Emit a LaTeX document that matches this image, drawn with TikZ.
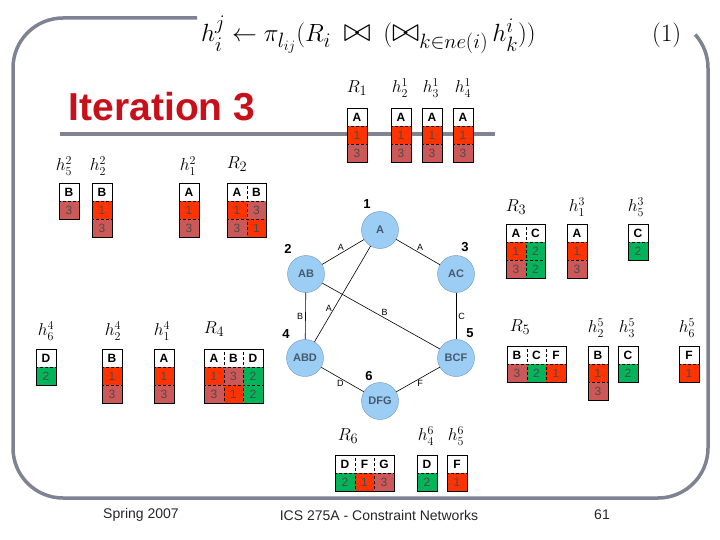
\documentclass[tikz,border=0pt]{standalone}
\usepackage[no-math]{fontspec}
\setmainfont{Liberation Sans}
\usepackage{amsmath}
\usepackage{graphicx}
\definecolor{framegray}{RGB}{126,131,148}
\definecolor{titlered}{RGB}{200,16,26}
\definecolor{rd}{RGB}{255,51,0}
\definecolor{dr}{RGB}{204,88,88}
\definecolor{gn}{RGB}{0,180,90}
\definecolor{nodeblue}{RGB}{155,205,245}
\definecolor{nodeline}{RGB}{110,150,190}
\definecolor{nodetext}{RGB}{70,90,110}
% one column of a relation table: name, left x, top y, header, values
\newcommand{\tabcol}[5]{%
  \node[headcell] (#1-0) at (#2,#3) {#4};
  \foreach \val/\fcol [count=\i] in {#5}
    \node[datacell, fill=\fcol] (#1-\i) at (#2,{#3+18*\i}) {\val};
}
\newcommand{\bigjoin}{\mathbin{\scalebox{1.35}{$\bowtie$}}}
\begin{document}
\begin{tikzpicture}[x=1pt, y=-1pt,
    headcell/.style={draw, densely dashed, line width=0.4pt, anchor=north west, inner sep=0pt,
      minimum width=19.5pt, minimum height=18pt, fill=white, font=\fontsize{12}{12}\selectfont\bfseries},
    datacell/.style={headcell, font=\fontsize{12}{12}\selectfont, text=black!70},
    tabframe/.style={draw, line width=0.6pt},
    lbl/.style={font=\fontsize{17}{17}\selectfont, inner sep=0pt},
    rlbl/.style={font=\fontsize{19}{19}\selectfont, inner sep=0pt},
    cl/.style={circle, draw=nodeline, fill=nodeblue, minimum size=37pt, inner sep=0pt,
      text=nodetext, font=\fontsize{11}{11}\selectfont\bfseries},
    num/.style={font=\fontsize{13}{13}\selectfont\bfseries},
    edge/.style={line width=0.6pt},
    elab/.style={font=\fontsize{9}{9}\selectfont, inner sep=2pt},
    foot/.style={font=\fontsize{14}{14}\selectfont, text=black!85}]
  \useasboundingbox (0,0) rectangle (720,540);
  % frame
  \draw[framegray, line width=3.5pt] (197,18) -- (63,18) arc[start angle=-90, end angle=-180, radius=50]
    -- (13,448) arc[start angle=180, end angle=90, radius=50]
    -- (658,498) arc[start angle=90, end angle=0, radius=50]
    -- (708,68) arc[start angle=0, end angle=-42, radius=50];
  \draw[framegray, line width=4pt] (60,134) -- (495,134);
  % formula
  \node[anchor=base west, inner sep=0pt] (eq) at (201,42)
    {\fontsize{29}{30}\selectfont $h_i^j \leftarrow \pi_{l_{ij}}(R_i \;\bigjoin\; (\bigjoin_{k\in ne(i)}\, h_k^i))$};
  \node[anchor=base west, inner sep=0pt] (eqn) at (652,42) {\fontsize{29}{30}\selectfont $(1)$};
  \node[font=\fontsize{39}{39}\selectfont\bfseries, text=titlered] (ttl) at (162,107) {Iteration 3};

  % tables
  \tabcol{R1}{347}{108}{A}{1/rd,3/dr}
  \tabcol{h21}{391}{108}{A}{1/rd,3/dr}
  \tabcol{h31}{422}{108}{A}{1/rd,3/dr}
  \tabcol{h41}{453}{108}{A}{1/rd,3/dr}
  \tabcol{h52}{59}{183}{B}{3/dr}
  \tabcol{h22}{92}{183}{B}{1/rd,3/dr}
  \tabcol{h12}{179}{183}{A}{1/rd,3/dr}
  \tabcol{R2a}{227}{183}{A}{1/rd,3/dr}
  \tabcol{R2b}{246.5}{183}{B}{3/dr,1/rd}
  \tabcol{R3a}{506}{224}{A}{1/rd,3/dr}
  \tabcol{R3c}{525.5}{224}{C}{2/gn,2/gn}
  \tabcol{h13}{567}{224}{A}{1/rd,3/dr}
  \tabcol{h53}{628}{224}{C}{2/gn}
  \tabcol{h64}{36}{349}{D}{2/gn}
  \tabcol{h24}{102}{349}{B}{1/rd,3/dr}
  \tabcol{h14}{154}{349}{A}{1/rd,3/dr}
  \tabcol{R4a}{204}{349}{A}{1/rd,3/dr}
  \tabcol{R4b}{223.5}{349}{B}{3/dr,1/rd}
  \tabcol{R4d}{243}{349}{D}{2/gn,2/gn}
  \tabcol{R5b}{507}{346}{B}{3/dr}
  \tabcol{R5c}{526.5}{346}{C}{2/gn}
  \tabcol{R5f}{546}{346}{F}{1/rd}
  \tabcol{h25}{588}{346}{B}{1/rd,3/dr}
  \tabcol{h35}{618}{346}{C}{2/gn}
  \tabcol{h65}{679}{346}{F}{1/rd}
  \tabcol{R6d}{335}{455}{D}{2/gn}
  \tabcol{R6f}{354.5}{455}{F}{1/rd}
  \tabcol{R6g}{374}{455}{G}{3/dr}
  \tabcol{h46}{417}{455}{D}{2/gn}
  \tabcol{h56}{447}{455}{F}{1/rd}
  \foreach \a/\b in {R1-0/R1-2, h21-0/h21-2, h31-0/h31-2, h41-0/h41-2, h52-0/h52-1, h22-0/h22-2,
      h12-0/h12-2, R2a-0/R2b-2, R3a-0/R3c-2, h13-0/h13-2, h53-0/h53-1, h64-0/h64-1, h24-0/h24-2,
      h14-0/h14-2, R4a-0/R4d-2, R5b-0/R5f-1, h25-0/h25-2, h35-0/h35-1, h65-0/h65-1, R6d-0/R6g-1,
      h46-0/h46-1, h56-0/h56-1}
    \draw[tabframe] (\a.north west) rectangle (\b.south east);

  % table labels
  \node[rlbl] (lR1) at (357,88) {$R_1$};
  \node[lbl] (lh21) at (400,88) {$h_2^1$};
  \node[lbl] (lh31) at (431,88) {$h_3^1$};
  \node[lbl] (lh41) at (463,88) {$h_4^1$};
  \node[lbl] (lh52) at (64,166) {$h_5^2$};
  \node[lbl] (lh22) at (98,166) {$h_2^2$};
  \node[lbl] (lh12) at (188,166) {$h_1^2$};
  \node[rlbl] (lR2) at (237,164) {$R_2$};
  \node[rlbl] (lR3) at (516,207) {$R_3$};
  \node[lbl] (lh13) at (577,207) {$h_1^3$};
  \node[lbl] (lh53) at (636,207) {$h_5^3$};
  \node[lbl] (lh64) at (46,331) {$h_6^4$};
  \node[lbl] (lh24) at (113,331) {$h_2^4$};
  \node[lbl] (lh14) at (162,331) {$h_1^4$};
  \node[rlbl] (lR4) at (214,329) {$R_4$};
  \node[rlbl] (lR5) at (520,327) {$R_5$};
  \node[lbl] (lh25) at (596,328) {$h_2^5$};
  \node[lbl] (lh35) at (627,328) {$h_3^5$};
  \node[lbl] (lh65) at (687,328) {$h_6^5$};
  \node[rlbl] (lR6) at (348,436) {$R_6$};
  \node[lbl] (lh46) at (426,436) {$h_4^6$};
  \node[lbl] (lh56) at (456,436) {$h_5^6$};

  % tree of clusters
  \node[cl] (c1) at (380,230) {A};
  \node[cl] (c2) at (306,274) {AB};
  \node[cl] (c3) at (456,274) {AC};
  \node[cl] (c4) at (305,358) {ABD};
  \node[cl] (c5) at (456,358) {BCF};
  \node[cl] (c6) at (380,401) {DFG};
  \node[num] (n1) at (367,204) {1};
  \node[num] (n2) at (288,249) {2};
  \node[num] (n3) at (465,247) {3};
  \node[num] (n4) at (286,334) {4};
  \node[num] (n5) at (470,333) {5};
  \node[num] (n6) at (369,376) {6};
  \draw[edge] (c1) -- node[elab, pos=.55, above] {A} (c2);
  \draw[edge] (c1) -- node[elab, pos=.55, above] {A} (c3);
  \draw[edge] (c1) -- node[elab, pos=.65, left] {A} (c4);
  \draw[edge] (c2) -- node[elab, pos=.5, left] {B} (c4);
  \draw[edge] (c2) -- node[elab, pos=.53, above] {B} (c5);
  \draw[edge] (c3) -- node[elab, pos=.5, right] {C} (c5);
  \draw[edge] (c4) -- node[elab, pos=.45, below] {D} (c6);
  \draw[edge] (c5) -- node[elab, pos=.45, below] {F} (c6);

  % footer
  \node[foot] (f1) at (141,515) {Spring 2007};
  \node[foot] (f2) at (379,515) {ICS 275A - Constraint Networks};
  \node[foot] (f3) at (602,515) {61};
\end{tikzpicture}
\end{document}
